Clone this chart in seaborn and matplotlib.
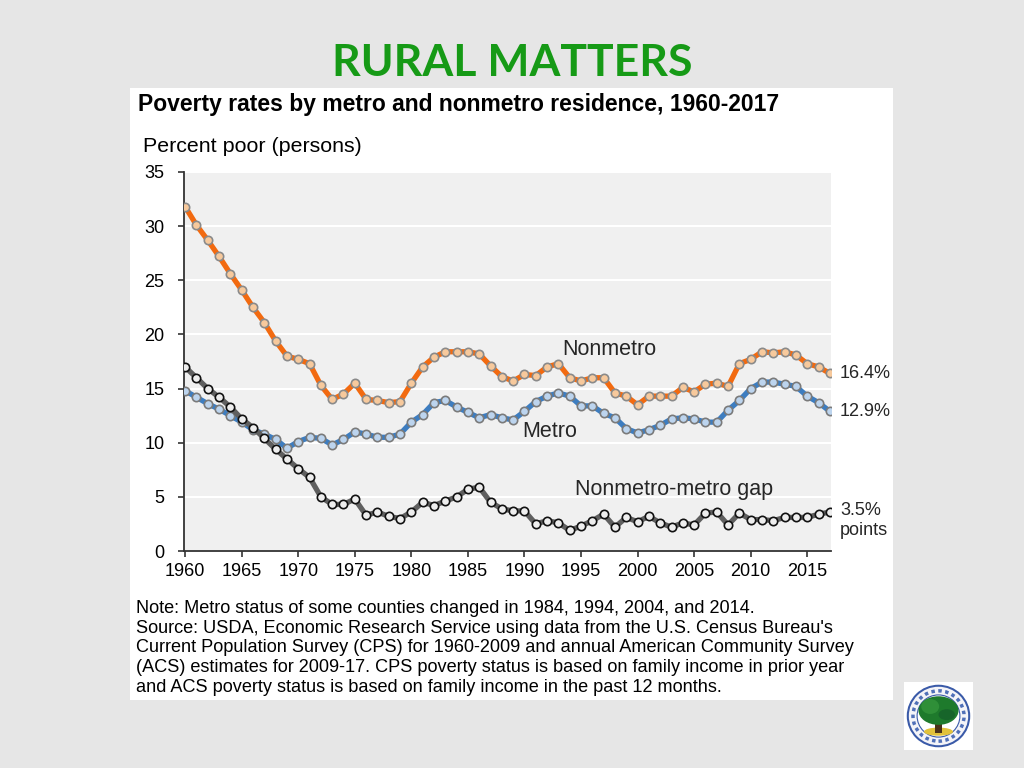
import numpy as np
import pandas as pd
import matplotlib
matplotlib.use("Agg")
import matplotlib.pyplot as plt
import seaborn as sns
from matplotlib.patches import Rectangle, Circle, Ellipse

# Datos
years = list(range(1960, 2018))
nonmetro = [31.8, 30.1, 28.7, 27.2, 25.6, 24.1, 22.5, 21.1, 19.4, 18.0,
            17.7, 17.3, 15.3, 14.0, 14.5, 15.5, 14.0, 13.9, 13.7, 13.8,
            15.5, 17.0, 17.9, 18.4, 18.4, 18.4, 18.2, 17.1, 16.1, 15.7,
            16.3, 16.2, 17.0, 17.3, 16.0, 15.7, 16.0, 16.0, 14.6, 14.3,
            13.5, 14.3, 14.3, 14.3, 15.1, 14.7, 15.4, 15.5, 15.2, 17.3,
            17.7, 18.4, 18.3, 18.4, 18.1, 17.3, 17.0, 16.4]
metro = [14.8, 14.2, 13.6, 13.1, 12.5, 11.9, 11.2, 10.8, 10.3, 9.5,
         10.1, 10.5, 10.4, 9.8, 10.3, 11.0, 10.8, 10.5, 10.5, 10.8,
         11.9, 12.6, 13.7, 13.9, 13.3, 12.8, 12.3, 12.6, 12.3, 12.1,
         12.9, 13.8, 14.3, 14.6, 14.3, 13.4, 13.4, 12.7, 12.3, 11.3,
         10.9, 11.2, 11.6, 12.2, 12.3, 12.2, 11.9, 11.9, 13.0, 13.9,
         15.0, 15.6, 15.6, 15.4, 15.2, 14.3, 13.7, 12.9]
gap = [17.0, 16.0, 15.0, 14.2, 13.3, 12.2, 11.4, 10.4, 9.4, 8.5,
       7.6, 6.8, 5.0, 4.3, 4.3, 4.8, 3.3, 3.6, 3.2, 3.0,
       3.6, 4.5, 4.2, 4.6, 5.0, 5.7, 5.9, 4.5, 3.9, 3.7,
       3.7, 2.5, 2.8, 2.6, 1.9, 2.3, 2.8, 3.4, 2.2, 3.1,
       2.7, 3.2, 2.6, 2.2, 2.6, 2.4, 3.5, 3.6, 2.4, 3.5,
       2.9, 2.9, 2.8, 3.1, 3.1, 3.1, 3.4, 3.6]
yticks = [0, 5, 10, 15, 20, 25, 30, 35]
xticks = [1960, 1965, 1970, 1975, 1980, 1985, 1990, 1995, 2000, 2005, 2010, 2015]

df = pd.DataFrame({"year": years, "Nonmetro": nonmetro, "Metro": metro, "Gap": gap})

sns.set_style("white")
plt.rcParams['font.family'] = ['Liberation Sans', 'DejaVu Sans']

fig = plt.figure(figsize=(10.24, 7.68), dpi=100)
fig.patch.set_facecolor('#e6e6e6')

# Panel blanco (detras de todo)
bg = fig.add_axes([130/1024, 1-700/768, 763/1024, 612/768], zorder=-5)
bg.set_facecolor('white')
bg.set_xticks([])
bg.set_yticks([])
for s in bg.spines.values():
    s.set_visible(False)

fig.text(0.5, 1-63/768, "RURAL MATTERS", ha='center', va='center',
         fontsize=32, fontweight='bold', color='#169a16', family=['Lato', 'DejaVu Sans'])
fig.text(138/1024, 1-105/768, "Poverty rates by metro and nonmetro residence, 1960-2017",
         ha='left', va='center', fontsize=16.5, fontweight='bold', color='black')
fig.text(143/1024, 1-146/768, "Percent poor (persons)", ha='left', va='center',
         fontsize=15.4, color='black')

ax = fig.add_axes([184/1024, 1-551/768, 647/1024, 379/768])
ax.set_facecolor('#f0f0f0')

series = [
    ("Nonmetro", '#f26a10', '#f7c99c', '#8a8a8a'),
    ("Metro", '#3d7dc0', '#bcd4ee', '#7a7a7a'),
    ("Gap", '#5f5f5f', '#eeeeee', '#111111'),
]
for col, lc, fc, ec in series:
    sns.lineplot(data=df, x="year", y=col, ax=ax, color=lc, linewidth=3.8,
                 marker='o', markersize=6, markerfacecolor=fc,
                 markeredgecolor=ec, markeredgewidth=1.2, zorder=3)

ax.set_xlim(1959.9, 2017.1)
ax.set_ylim(0, 35)
ax.set_xticks(xticks)
ax.set_yticks(yticks)
ax.set_xlabel("")
ax.set_ylabel("")
ax.grid(axis='y', color='white', linewidth=1.5, zorder=0)
ax.set_axisbelow(True)
for s in ['top', 'right']:
    ax.spines[s].set_visible(False)
for s in ['left', 'bottom']:
    ax.spines[s].set_color('#333333')
    ax.spines[s].set_linewidth(1.3)
ax.tick_params(axis='both', which='both', length=4, width=1.2, color='#333333',
               labelsize=13, labelcolor='black', left=True, bottom=True)
ax.tick_params(axis='y', pad=10)
ax.tick_params(axis='x', pad=5)

# Etiquetas de series
ax.text(1993.3, 18.65, "Nonmetro", fontsize=15.5, ha='left', va='center')
ax.text(1989.8, 11.0, "Metro", fontsize=15.5, ha='left', va='center')
ax.text(1994.5, 5.7, "Nonmetro-metro gap", fontsize=15.5, ha='left', va='center')
ax.text(2017.9, 16.4, "16.4%", fontsize=13, ha='left', va='center', clip_on=False)
ax.text(2017.9, 12.9, "12.9%", fontsize=13, ha='left', va='center', clip_on=False)
ax.text(2017.9, 2.8, "3.5%\npoints", fontsize=13, ha='left', va='center',
        linespacing=1.2, clip_on=False)

notes = ("Note: Metro status of some counties changed in 1984, 1994, 2004, and 2014.\n"
         "Source: USDA, Economic Research Service using data from the U.S. Census Bureau's\n"
         "Current Population Survey (CPS) for 1960-2009 and annual American Community Survey\n"
         "(ACS) estimates for 2009-17. CPS poverty status is based on family income in prior year\n"
         "and ACS poverty status is based on family income in the past 12 months.")
fig.text(136/1024, 1-648/768, notes, ha='left', va='center', fontsize=13.1,
         linespacing=1.22, color='black')

# Sello (aproximado)
lax = fig.add_axes([904/1024, 1-750/768, 69/1024, 68/768])
lax.set_xlim(0, 1)
lax.set_ylim(0, 1)
lax.axis('off')
lax.add_patch(Rectangle((0, 0), 1, 1, facecolor='white', edgecolor='none'))
lax.add_patch(Circle((0.5, 0.5), 0.46, facecolor='#3a5aa8', edgecolor='none'))
lax.add_patch(Circle((0.5, 0.5), 0.43, facecolor='#f4f4f8', edgecolor='none'))
lax.add_patch(Circle((0.5, 0.5), 0.37, facecolor='none', edgecolor='#5070b8',
                     linewidth=2.5, linestyle=(0, (1, 1))))
lax.add_patch(Circle((0.5, 0.5), 0.31, facecolor='white', edgecolor='#3a5aa8', linewidth=0.8))
lax.add_patch(Ellipse((0.5, 0.27), 0.42, 0.12, facecolor='#e2c23a', edgecolor='none'))
lax.add_patch(Rectangle((0.45, 0.25), 0.1, 0.25, facecolor='#4a3218', edgecolor='none'))
lax.add_patch(Ellipse((0.5, 0.58), 0.58, 0.42, facecolor='#1e7a2c', edgecolor='none'))
lax.add_patch(Ellipse((0.38, 0.64), 0.26, 0.22, facecolor='#2f8f38', edgecolor='none'))
lax.add_patch(Ellipse((0.62, 0.52), 0.24, 0.16, facecolor='#17652a', edgecolor='none'))

fig.savefig("out.png", dpi=100)
